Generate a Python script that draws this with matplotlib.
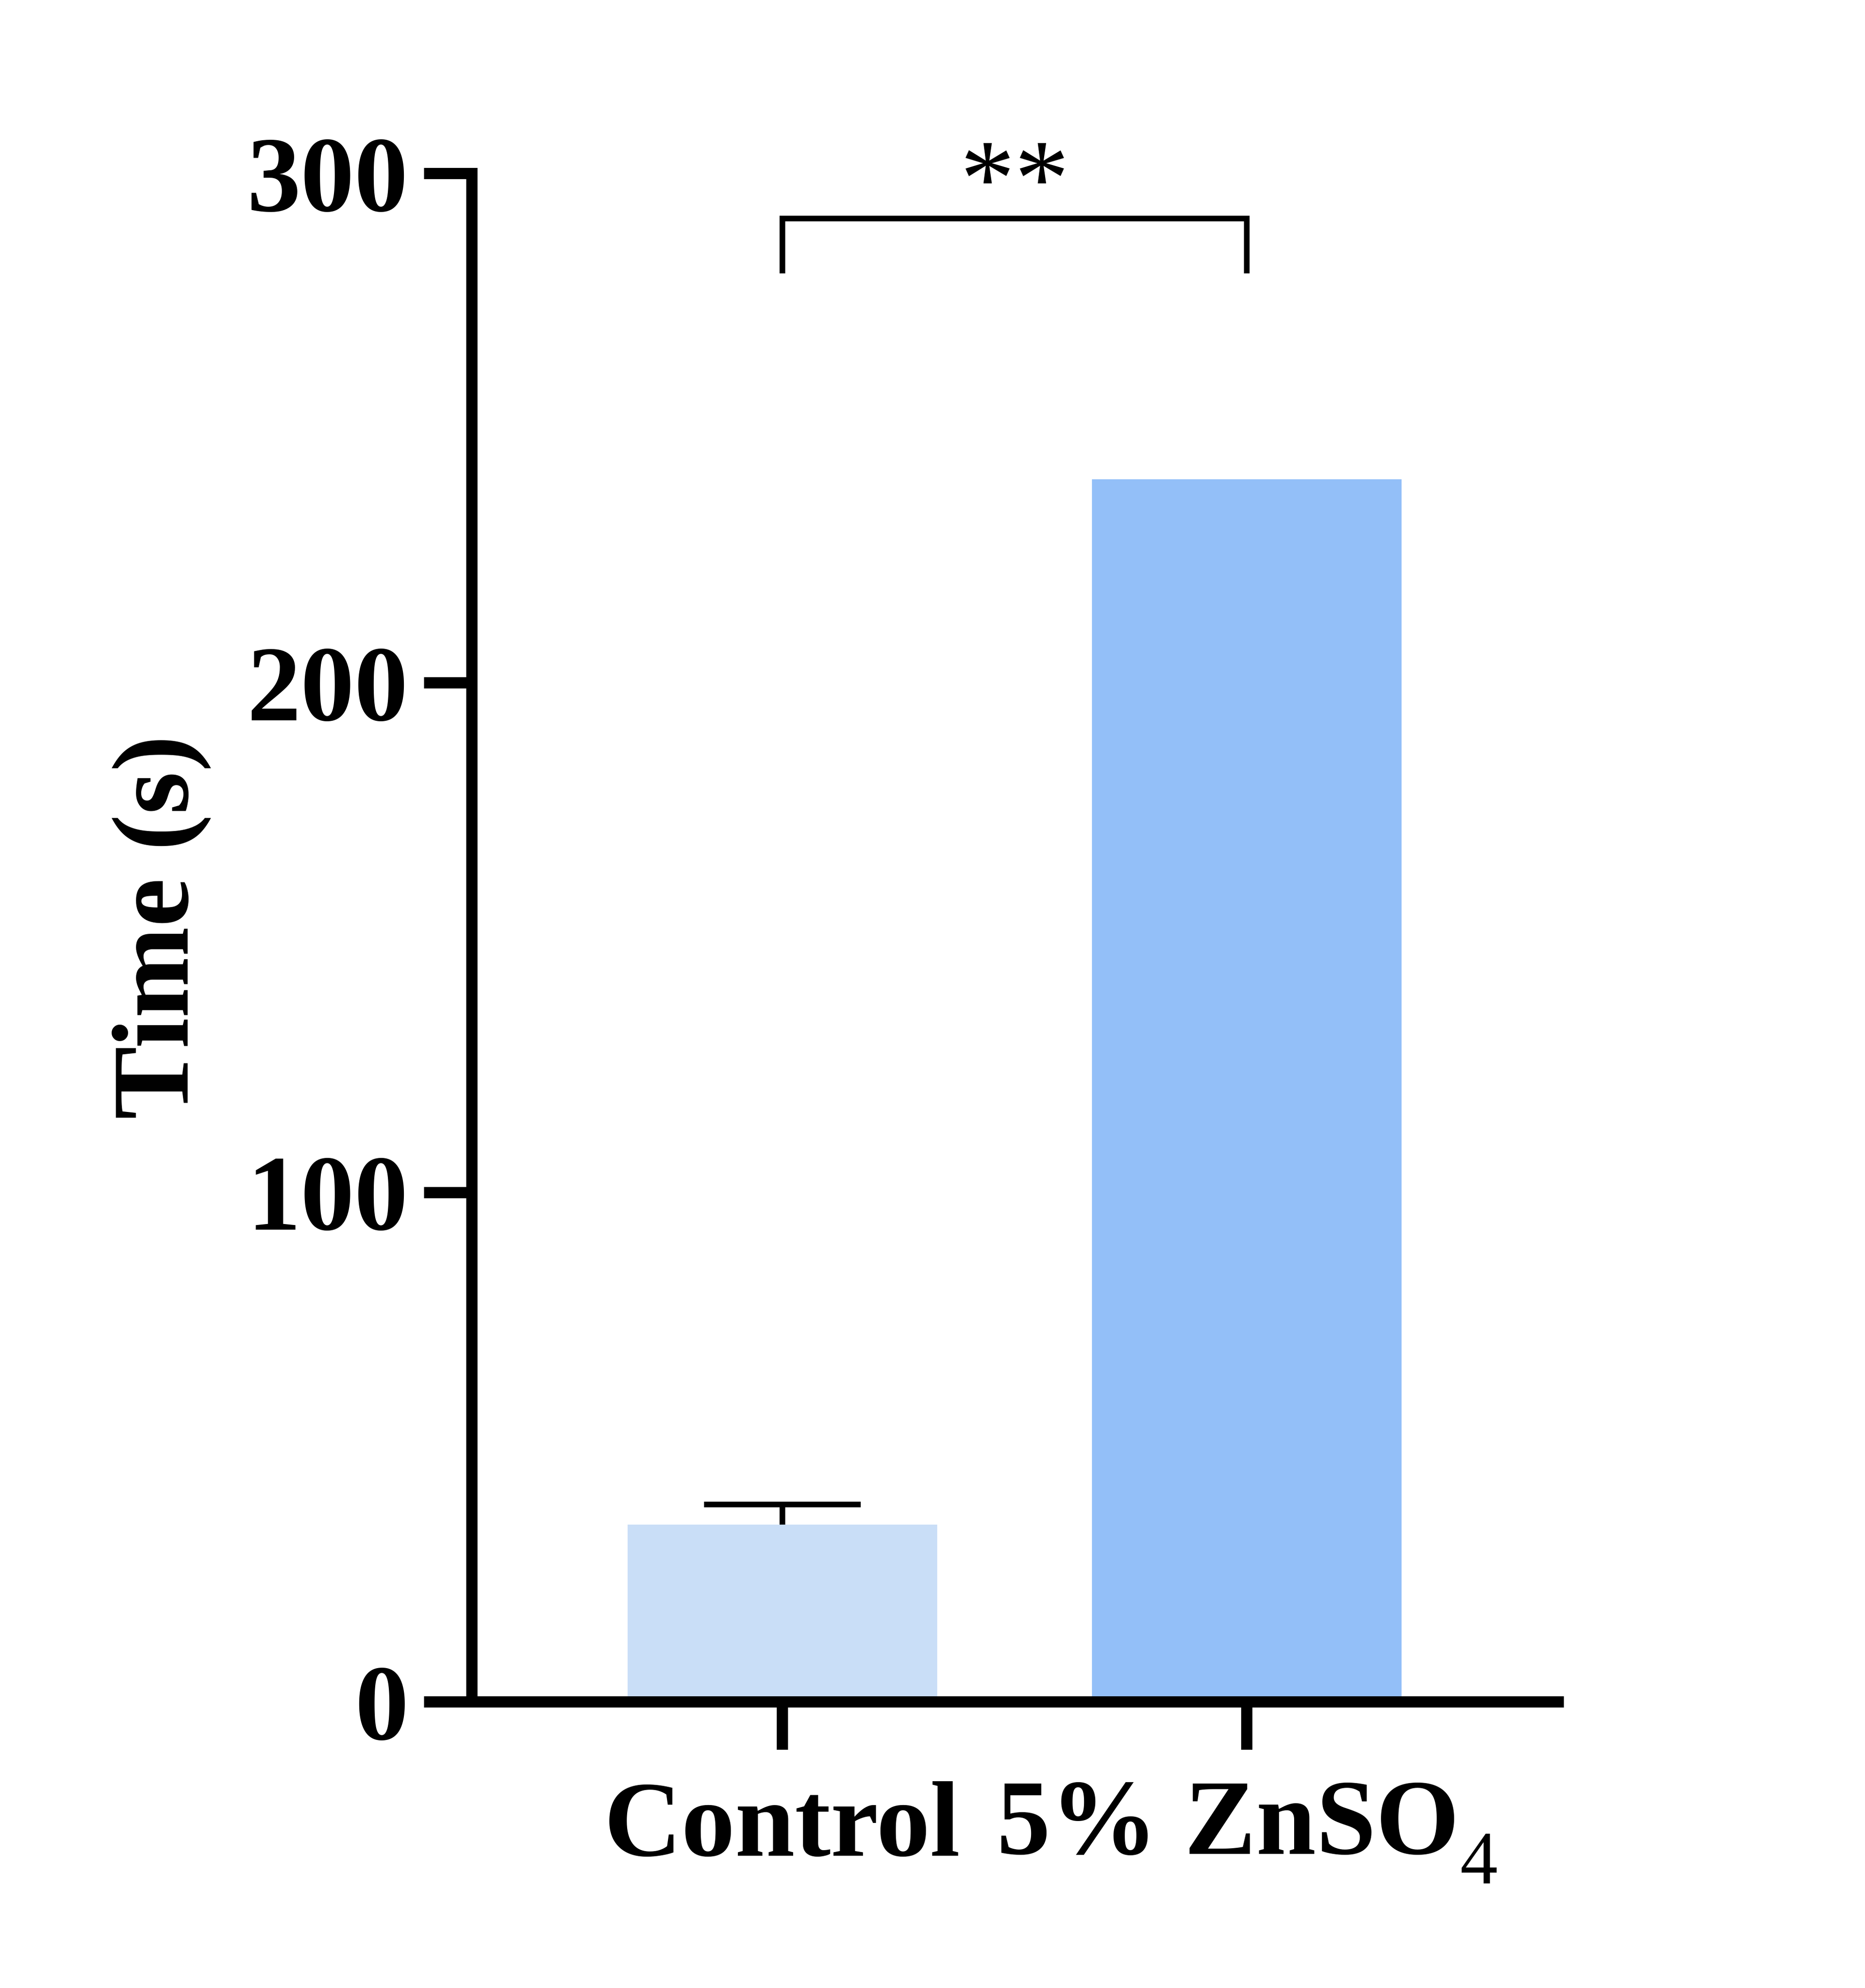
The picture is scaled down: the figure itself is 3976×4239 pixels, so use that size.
import numpy as np
import matplotlib
matplotlib.use("Agg")
import matplotlib.pyplot as plt

groups = ["Control", "5% ZnSO$_4$"]
means = [34.8, 240.0]
err_up = [4.0, 0.0]
bar_colors = ["#C9DEF7", "#93BFF8"]
yticks = [0, 100, 200, 300]
sig_text = "**"
sig_y = 291.2
sig_leg = 280.4

plt.rcParams["font.family"] = "Liberation Serif"
plt.rcParams["font.weight"] = "bold"
plt.rcParams["mathtext.fontset"] = "custom"
plt.rcParams["mathtext.rm"] = "Liberation Serif:weight=normal"
plt.rcParams["mathtext.it"] = "Liberation Serif:italic:weight=normal"
plt.rcParams["mathtext.bf"] = "Liberation Serif:bold"

# the subscript 4 sits lower than matplotlib's default
try:
    from matplotlib import _mathtext
    _mathtext.FontConstantsBase.sub1 = 0.6
except Exception:
    pass

fig = plt.figure(figsize=(3976 / 300, 4239 / 300), dpi=300)
ax = fig.add_axes([0.253, 0.1439, 0.8355 - 0.253, 0.7688])

x = np.arange(len(groups))
ax.bar(x, means, width=0.667, color=bar_colors, zorder=1)
eb = ax.errorbar(x[0], means[0], yerr=[[0], [err_up[0]]], fmt="none", ecolor="black",
                 elinewidth=2.9, capsize=40, capthick=2.9, zorder=2)
# only the upper cap is shown
eb[1][0].set_visible(False)

ax.set_xlim(-0.669, 1.671)
ax.set_ylim(0, 300)
ax.set_yticks(yticks)
ax.set_yticklabels([str(t) for t in yticks])
ax.set_xticks(x)
ax.set_xticklabels(groups)

for side in ["top", "right"]:
    ax.spines[side].set_visible(False)
for side in ["left", "bottom"]:
    ax.spines[side].set_linewidth(5.76)
    ax.spines[side].set_capstyle("projecting")

ax.tick_params(axis="y", length=24.5, width=5.76, labelsize=55, pad=8)
ax.tick_params(axis="x", length=24.5, width=5.76, labelsize=55, pad=16)
for lab in ax.get_xticklabels() + ax.get_yticklabels():
    lab.set_fontfamily("Liberation Serif")
    lab.set_fontweight("bold")

ax.set_ylabel("Time (s)", fontsize=56, fontweight="bold", family="Liberation Serif")
ax.yaxis.set_label_coords(-0.24, 0.507)

# significance bracket
ax.plot([x[0], x[0], x[1], x[1]], [sig_leg, sig_y, sig_y, sig_leg], color="black",
        lw=2.9, clip_on=False, solid_capstyle="butt", solid_joinstyle="miter")
ax.text((x[0] + x[1]) / 2, 291.9, sig_text, ha="center", va="baseline",
        fontsize=56, fontweight="normal", family="Liberation Serif", clip_on=False)

fig.savefig("out.png", dpi=300, facecolor="white")
